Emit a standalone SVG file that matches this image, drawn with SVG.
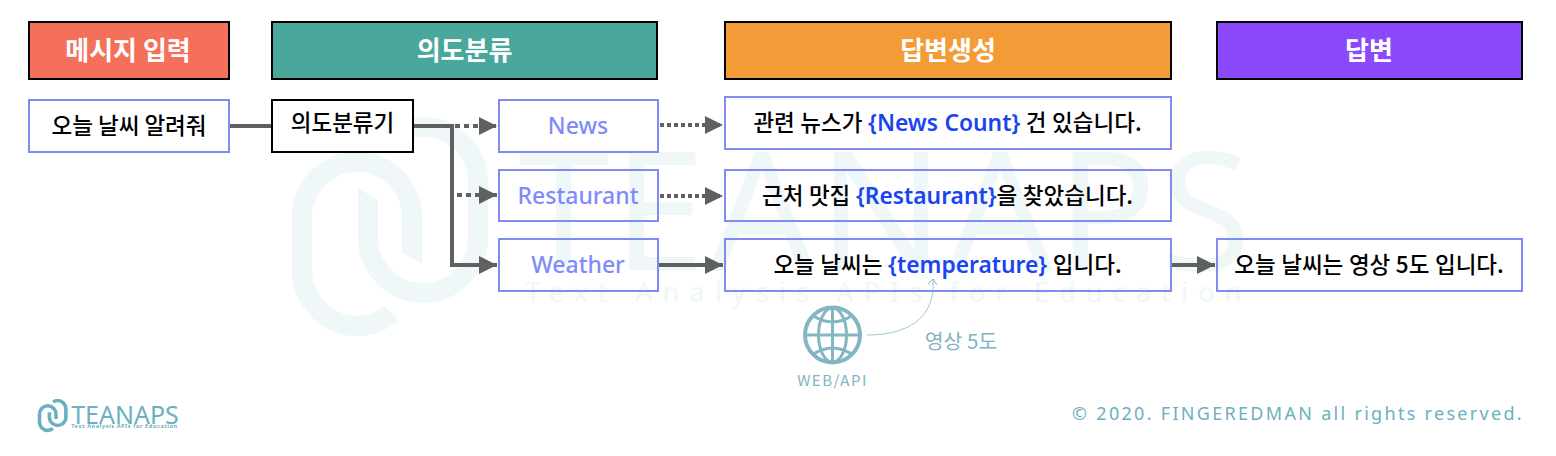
<svg xmlns="http://www.w3.org/2000/svg" xmlns:xlink="http://www.w3.org/1999/xlink" width="1556" height="456" viewBox="0 0 1556 456">
<style>
text{font-family:"Noto Sans CJK KR","Noto Sans",sans-serif;text-anchor:middle}
.h{font-size:26px;font-weight:700;fill:#fff}
.hb{stroke:#000;stroke-width:2}
.b{fill:none;stroke:#7f8af5;stroke-width:2}
.t{font-size:22.500px;font-weight:500;fill:#000}
.v{fill:#1a44f0;font-family:"Noto Sans",sans-serif;font-size:22.800px;font-weight:600}
.n{font-size:23px;font-weight:500;fill:#7f8bfa;font-family:"Noto Sans",sans-serif}
.c{fill:none;stroke:#5f6161;stroke-width:4}
.d{stroke-dasharray:4 3}
.wm{fill:#eff7f9;font-family:"Noto Sans",sans-serif}
.hand{fill:#82b4c2}
.g{fill:none;stroke:#84b5c2}
</style>
<defs>
<marker id="a" markerUnits="userSpaceOnUse" markerWidth="18" markerHeight="18" refX="18" refY="9" orient="auto"><path d="M0 0L18 9L0 18Z" fill="#5f6161"/></marker>
<marker id="s" markerUnits="userSpaceOnUse" markerWidth="12" markerHeight="12" refX="6" refY="1" orient="0"><path d="M1 6L6 1L10 7" fill="none" stroke="#84b5c2"/></marker>
<g id="mark">
<path fill="none" d="M391 313C380 323 368 326 357 326C327 326 302 300 302 271V217A55 55 0 0 1 412 217V250"/>
<path fill="none" d="M368 205V238C368 268 393 293 423 293C453 293 478 268 478 238V182A55 55 0 0 0 423 127C412 127 402 130 393 136"/>
</g>
</defs>
<rect width="1556" height="456" fill="#fff"/>
<g id="watermark">
<use xlink:href="#mark" href="#mark" stroke="#eff7f9" stroke-width="20"/>
<path fill="#eff7f9" d="M402 245H422V264L402 253ZM358 188L378 200V210H358Z"/>
<text x="518" y="270" class="wm" font-size="165" letter-spacing="3.800" style="text-anchor:start">TEANAPS</text>
<text x="888.500" y="302" class="wm" font-size="27" letter-spacing="10.150">Text Analysis APIs for Education</text>
</g>
<g id="connectors">
<path class="c" d="M230 126H272"/>
<path class="c" d="M414 126H452V265H497" marker-end="url(#a)"/>
<path class="c" d="M455 126H497" stroke-dasharray="5 4" marker-end="url(#a)"/>
<path class="c" d="M457 195H497" stroke-dasharray="5 4" marker-end="url(#a)"/>
<path class="c d" d="M660 125H723" marker-end="url(#a)"/>
<path class="c d" d="M660 196H723" marker-end="url(#a)"/>
<path class="c" d="M659 265H723" marker-end="url(#a)"/>
<path class="c" d="M1172 265H1215" marker-end="url(#a)"/>
<path d="M867 335C905 335 936 320 933 279" fill="none" stroke="#9cc8d2" stroke-width="1" marker-end="url(#s)"/>
</g>
<g id="h1"><rect class="hb" x="29" y="22" width="200" height="57" fill="#f4705b"/><text class="h" x="128" y="60">메시지 입력</text></g>
<g id="h2"><rect class="hb" x="272" y="22" width="385" height="57" fill="#4aa79b"/><text class="h" x="464.500" y="60">의도분류</text></g>
<g id="h3"><rect class="hb" x="725" y="22" width="446" height="57" fill="#f39c37"/><text class="h" x="948" y="60">답변생성</text></g>
<g id="h4"><rect class="hb" x="1217" y="22" width="305" height="57" fill="#8c48fb"/><text class="h" x="1369" y="60">답변</text></g>
<g id="input"><rect class="b" x="29" y="100" width="200" height="52"/><text class="t" x="129" y="134">오늘 날씨 알려줘</text></g>
<g id="classifier"><rect x="272" y="100" width="141" height="52" fill="#fff" stroke="#000" stroke-width="2"/><text class="t" x="342.500" y="131">의도분류기</text></g>
<g id="news"><rect class="b" x="499" y="100" width="159" height="52"/><text class="n" x="578" y="134">News</text></g>
<g id="restaurant"><rect class="b" x="499" y="170" width="159" height="51"/><text class="n" x="578" y="204">Restaurant</text></g>
<g id="weather"><rect class="b" x="499" y="239" width="159" height="52"/><text class="n" x="578" y="273">Weather</text></g>
<g id="r1"><rect class="b" x="725" y="97" width="446" height="52"/><text class="t" x="947.500" y="131" word-spacing=".5">관련 뉴스가 <tspan class="v">{News Count}</tspan> 건 있습니다.</text></g>
<g id="r2"><rect class="b" x="725" y="170" width="446" height="51"/><text class="t" x="947.500" y="204" word-spacing=".5">근처 맛집 <tspan class="v">{Restaurant}</tspan>을 찾았습니다.</text></g>
<g id="r3"><rect class="b" x="725" y="239" width="446" height="52"/><text class="t" x="947.500" y="273" word-spacing=".5">오늘 날씨는 <tspan class="v">{temperature}</tspan> 입니다.</text></g>
<g id="answer"><rect class="b" x="1217" y="239" width="305" height="52"/><text class="t" x="1369" y="273" word-spacing=".5">오늘 날씨는 영상 5도 입니다.</text></g>
<g id="web">
<circle class="g" cx="832.500" cy="335" r="27.500" stroke-width="4"/>
<ellipse class="g" cx="832.500" cy="335" rx="14" ry="27" stroke-width="3"/>
<path class="g" stroke-width="3" d="M832.500 308V362M805 335H860M812 315Q832.500 329 853 315M812 355Q832.500 341 853 355"/>
<text class="hand" x="832.500" y="386" font-size="15" letter-spacing="1.500">WEB/API</text>
</g>
<text class="hand" id="temp" x="961" y="349" font-size="20.500">영상 5도</text>
<g id="logo">
<use xlink:href="#mark" href="#mark" transform="translate(-5.800 381.500) scale(.15)" stroke="#6bb0bf" stroke-width="24"/>
<text x="125" y="424" font-size="25" fill="#6bb0bf" style="font-family:'Noto Sans'">TEANAPS</text>
<text x="124.500" y="428" font-size="5.500" font-weight="700" letter-spacing=".6" fill="#6bb0bf" style="font-family:'Noto Sans'">Text Analysis APIs for Education</text>
</g>
<text x="1298" y="420" letter-spacing="2.300" fill="#6bb0bf" style="font-family:'Noto Sans';font-size:18px">© 2020. FINGEREDMAN all rights reserved.</text>
</svg>
